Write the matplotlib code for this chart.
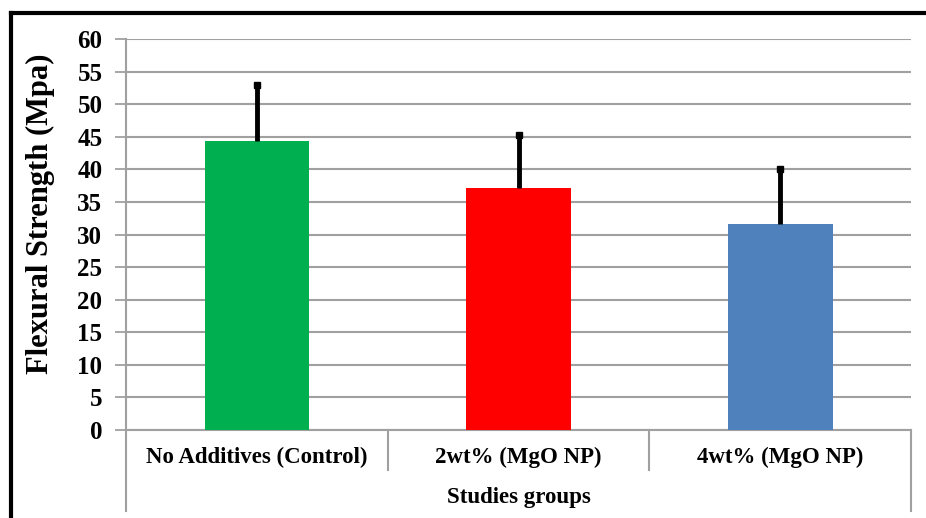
import numpy as np
import matplotlib
matplotlib.use("Agg")
import matplotlib.pyplot as plt
from matplotlib.lines import Line2D
import matplotlib.transforms as mtransforms

groups = ["No Additives (Control)", "2wt% (MgO NP)", "4wt% (MgO NP)"]
strength = [44.3, 37.1, 31.6]
err_up = [8.6, 8.2, 8.5]
colors = ["#00b050", "#ff0000", "#4f81bd"]
yticks = [0, 5, 10, 15, 20, 25, 30, 35, 40, 45, 50, 55, 60]

plt.rcParams['font.family'] = ['Liberation Serif', 'DejaVu Serif']
plt.rcParams['font.weight'] = 'bold'

grey = "#a0a0a0"
W, H = 926, 518
fig = plt.figure(figsize=(W/100, H/100), dpi=100)
ax = fig.add_axes([126/W, 1-430/H, (911-126)/W, (430-39)/H])

x = np.arange(len(groups))
tops = np.array(strength) + np.array(err_up)
ax.bar(x, strength, width=0.4, color=colors, zorder=3)
# one-sided (upper) error bars
ax.vlines(x, strength, tops, color='black', lw=3.5, zorder=4)
ax.plot(x, tops, ls='none', marker='s', ms=5, color='black', zorder=4)

ax.set_xlim(-0.5, 2.5)
ax.set_ylim(0, 60)
ax.set_yticks(yticks)
ax.set_yticklabels([str(t) for t in yticks], fontsize=18, fontweight='bold')
ax.yaxis.grid(True, color=grey, linewidth=1.5, zorder=0)
ax.tick_params(axis='y', direction='out', length=8, width=1.3, color=grey, pad=9)
ax.set_xticks([])
for s in ['top', 'right']:
    ax.spines[s].set_visible(False)
ax.spines['left'].set_color(grey)
ax.spines['left'].set_linewidth(1.5)
ax.spines['bottom'].set_color(grey)
ax.spines['bottom'].set_linewidth(1.5)

ax.set_ylabel("Flexural Strength (Mpa)", fontsize=22, fontweight='bold')
ax.yaxis.set_label_coords(-0.090, 0.552)

# category separators and extended outer lines
trans = mtransforms.blended_transform_factory(ax.transData, ax.transAxes)
dy = 1/((430-39)/H) / H  # axes fraction per pixel
for b in [0.5, 1.5]:
    ax.add_line(Line2D([b, b], [0, -40*dy], transform=trans, color=grey, lw=1.5, clip_on=False))
for b in [-0.5, 2.5]:
    ax.add_line(Line2D([b, b], [0, -81*dy], transform=trans, color=grey, lw=1.5, clip_on=False))

for i, g in enumerate(groups):
    ax.text(i, -27*dy, g, transform=trans, ha='center', va='center', fontsize=16.5, fontweight='bold')
ax.text(1, -68*dy, "Studies groups", transform=trans, ha='center', va='center', fontsize=16.5, fontweight='bold')

# outer frame (left and top edges)
fig.add_artist(Line2D([11/W, 11/W], [0, 1-13/H], color='black', lw=3))
fig.add_artist(Line2D([11/W, 1], [1-13/H, 1-13/H], color='black', lw=3))

fig.savefig("out.png", dpi=100)
